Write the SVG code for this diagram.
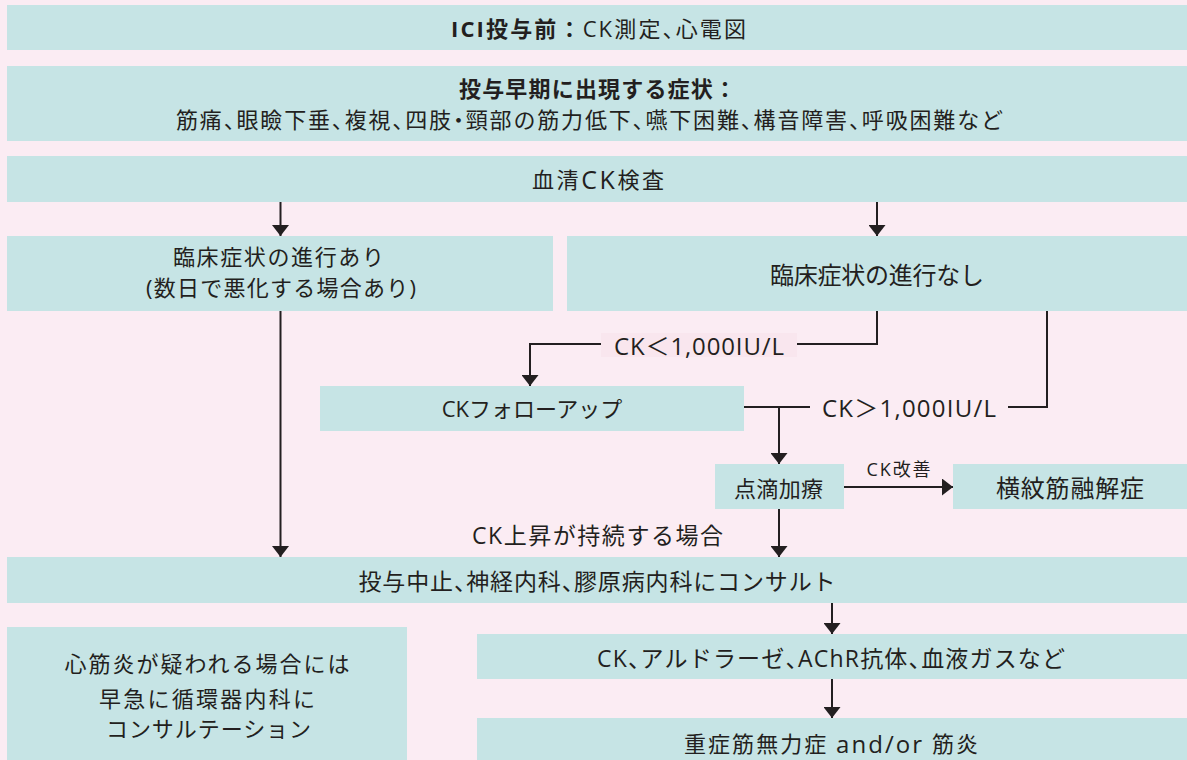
<svg xmlns="http://www.w3.org/2000/svg" width="1187" height="760" viewBox="0 0 1187 760">
<defs>
<style>
.bg{fill:#fbecf3}
.box{fill:#c6e4e5}
.t{font-family:"Open Sans","Noto Sans CJK JP",sans-serif;font-size:23px;fill:#231f20;text-anchor:middle;dominant-baseline:central}
.b{font-weight:bold}
.h{font-feature-settings:"halt"}
.ln{stroke:#231f20;stroke-width:2;fill:none}
</style>
<marker id="ah" viewBox="0 0 11 17" refX="11" refY="8.5" markerWidth="11" markerHeight="17" markerUnits="userSpaceOnUse" orient="auto">
<path d="M0,0 L11,8.5 L0,17 Z" fill="#231f20"/>
</marker>
</defs>
<rect class="bg" x="0" y="0" width="1187" height="760"/>

<g id="connectors">
<line class="ln" x1="280.5" y1="202" x2="280.5" y2="236" marker-end="url(#ah)"/>
<line class="ln" x1="877" y1="202" x2="877" y2="236" marker-end="url(#ah)"/>
<polyline class="ln" points="877,311 877,344 530,344 530,386" marker-end="url(#ah)"/>
<polyline class="ln" points="1047,311 1047,407 1008,407"/>
<line class="ln" x1="810" y1="407" x2="744" y2="407"/>
<polyline class="ln" points="779,407 779,464" marker-end="url(#ah)"/>
<line class="ln" x1="844" y1="487" x2="953" y2="487" marker-end="url(#ah)"/>
<line class="ln" x1="779" y1="509" x2="779" y2="557" marker-end="url(#ah)"/>
<line class="ln" x1="280.5" y1="311" x2="280.5" y2="557" marker-end="url(#ah)"/>
<line class="ln" x1="832" y1="603" x2="832" y2="634" marker-end="url(#ah)"/>
<line class="ln" x1="832" y1="679" x2="832" y2="718" marker-end="url(#ah)"/>
<rect x="601" y="333" width="196" height="24" fill="#f9e6ee"/>
<text class="t" x="699" y="345" style="font-size:24px" textLength="170">CK＜1,000IU/L</text>
<text class="t" x="909" y="407.5" style="font-size:24px" textLength="174">CK＞1,000IU/L</text>
<text class="t" x="898.5" y="469" style="font-size:18px" textLength="64">CK改善</text>
<text class="t" x="597.5" y="535" textLength="251">CK上昇が持続する場合</text>
</g>

<g id="n-pre">
<rect class="box" x="7" y="5" width="1180" height="45"/>
<text class="t" x="598.5" y="28" style="font-size:22px" textLength="295"><tspan class="b">ICI投与前：</tspan>CK測定<tspan class="h">、</tspan>心電図</text>
</g>

<g id="n-symptoms">
<rect class="box" x="7" y="66" width="1180" height="75"/>
<text class="t b" x="597.5" y="88" style="font-size:22px" textLength="277">投与早期に出現する症状：</text>
<text class="t" x="589.5" y="118.5" style="font-size:22px" textLength="827">筋痛<tspan class="h">、</tspan>眼瞼下垂<tspan class="h">、</tspan>複視<tspan class="h">、</tspan>四肢<tspan class="h">・</tspan>頸部の筋力低下<tspan class="h">、</tspan>嚥下困難<tspan class="h">、</tspan>構音障害<tspan class="h">、</tspan>呼吸困難など</text>
</g>

<g id="n-ck">
<rect class="box" x="7" y="156" width="1180" height="46"/>
<text class="t" x="598" y="179" style="font-size:22px" textLength="132">血清<tspan style="font-size:25px">CK</tspan>検査</text>
</g>

<g id="n-progress-yes">
<rect class="box" x="7" y="236" width="546" height="75"/>
<text class="t" x="278.5" y="256" style="font-size:22px" textLength="211">臨床症状の進行あり</text>
<text class="t" x="281" y="287" style="font-size:22px" textLength="270">(数日で悪化する場合あり)</text>
</g>

<g id="n-progress-no">
<rect class="box" x="567" y="236" width="620" height="75"/>
<text class="t" x="877" y="274" style="font-size:24px" textLength="214">臨床症状の進行なし</text>
</g>

<g id="n-followup">
<rect class="box" x="320" y="386" width="424" height="45"/>
<text class="t" x="532" y="408" style="font-size:22px">CKフォローアップ</text>
</g>

<g id="n-drip">
<rect class="box" x="715" y="464" width="129" height="45"/>
<text class="t" x="778.5" y="487.5" style="font-size:22px" textLength="89">点滴加療</text>
</g>

<g id="n-rhabdo">
<rect class="box" x="953" y="464" width="234" height="45"/>
<text class="t" x="1070" y="487.5" style="font-size:24px" textLength="148">横紋筋融解症</text>
</g>

<g id="n-stop">
<rect class="box" x="7" y="557" width="1180" height="46"/>
<text class="t" x="597" y="581" textLength="477">投与中止<tspan class="h">、</tspan>神経内科<tspan class="h">、</tspan>膠原病内科にコンサルト</text>
</g>

<g id="n-myocarditis">
<rect class="box" x="7" y="627" width="400" height="133"/>
<text class="t" x="207" y="663" style="font-size:22px" textLength="285">心筋炎が疑われる場合には</text>
<text class="t" x="207" y="697.5" style="font-size:22px" textLength="216">早急に循環器内科に</text>
<text class="t" x="208.5" y="727.5" style="font-size:22px" textLength="205">コンサルテーション</text>
</g>

<g id="n-tests">
<rect class="box" x="477" y="634" width="710" height="45"/>
<text class="t" x="831" y="658" textLength="468">CK<tspan class="h">、</tspan>アルドラーゼ<tspan class="h">、</tspan>AChR抗体<tspan class="h">、</tspan>血液ガスなど</text>
</g>

<g id="n-mg">
<rect class="box" x="477" y="718" width="710" height="42"/>
<text class="t" x="831" y="743" style="font-size:22px" textLength="294">重症筋無力症 <tspan style="font-size:24px">and/or</tspan> 筋炎</text>
</g>
</svg>
